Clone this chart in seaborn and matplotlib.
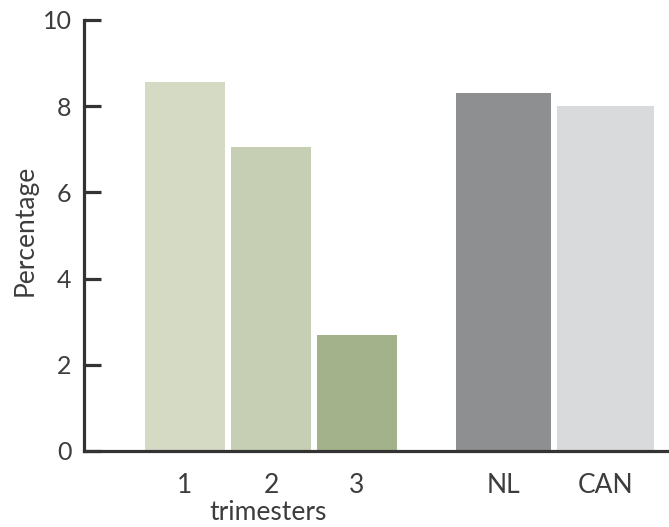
import matplotlib
matplotlib.use("Agg")
import matplotlib.pyplot as plt
import seaborn as sns

# --- data ---
groups = ["1", "2", "3", "NL", "CAN"]
values = [8.55, 7.05, 2.7, 8.3, 8.0]
colors = ["#d5dac4", "#c6ceb3", "#a3b28a", "#8e8f91", "#d9dadc"]

# layout of bars in category units (bar pitch of the trimester group = 1)
centers = [0, 1, 2, 3.70, 4.89]
widths = [0.93, 0.93, 0.93, 1.105, 1.128]

text_color = "#3d3d3d"
spine_color = "#333333"

sns.set_style("white")
plt.rcParams["font.family"] = ["Lato", "DejaVu Sans"]

fig = plt.figure(figsize=(6.69, 5.27), dpi=100)
ax = fig.add_axes([84 / 669, 76 / 527, 585 / 669, 431 / 527])

sns.barplot(x=groups, y=values, hue=groups, palette=colors, legend=False,
            saturation=1, ax=ax, linewidth=0)

# bars in this chart are not evenly spaced, so move them into place
for patch, c, w in zip(ax.patches, centers, widths):
    patch.set_x(c - w / 2)
    patch.set_width(w)

ax.set_xlim(-1.174, 5.628)
ax.set_ylim(0, 10)
ax.set_xticks(centers)
ax.set_xticklabels(groups)
ax.set_yticks([0, 2, 4, 6, 8, 10])

sns.despine(ax=ax)
for side in ["left", "bottom"]:
    ax.spines[side].set_color(spine_color)
    ax.spines[side].set_linewidth(2.3)

ax.tick_params(axis="y", left=True, direction="in", length=12, width=2.3,
               color=spine_color, labelsize=18, labelcolor=text_color, pad=9)
ax.tick_params(axis="x", bottom=False, length=0, labelsize=19,
               labelcolor=text_color, pad=16)

ax.set_ylabel("Percentage", fontsize=19, color=text_color)
ax.yaxis.set_label_coords(-0.080, 0.513)
ax.set_xlabel("trimesters", fontsize=19, color=text_color, va="bottom")
ax.xaxis.set_label_coords(0.3145, -0.172)

fig.savefig("out.png", dpi=100)
